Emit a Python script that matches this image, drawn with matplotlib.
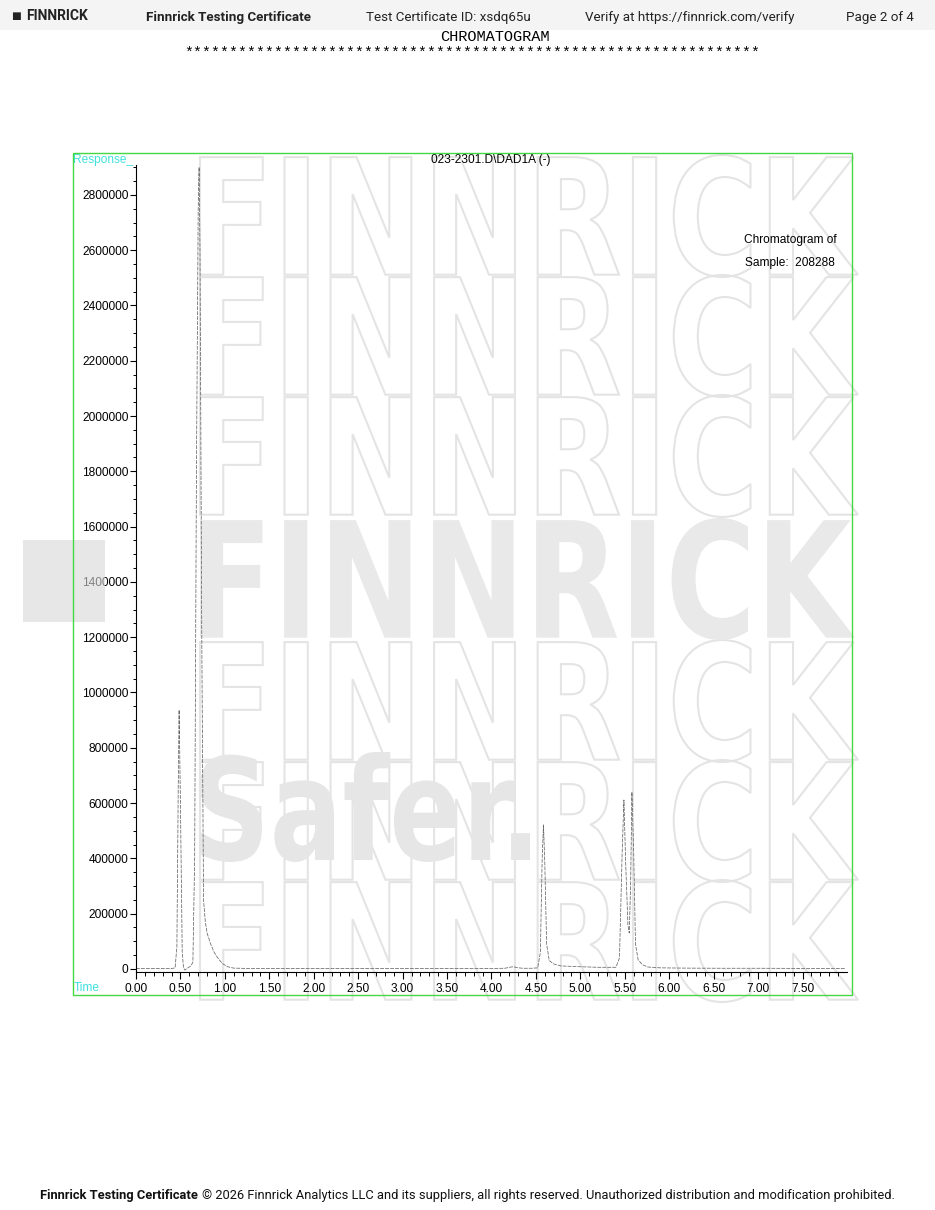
import numpy as np
import matplotlib
matplotlib.use("Agg")
import matplotlib.pyplot as plt
from matplotlib.textpath import TextPath
from matplotlib.patches import PathPatch, Rectangle
from matplotlib.font_manager import FontProperties
from matplotlib.transforms import Affine2D
from matplotlib.ticker import FixedLocator, FuncFormatter

W, H = 935, 1210

# retention time (min) and detector response
rt_min = [0.00, 0.20, 0.40, 0.44, 0.46, 0.475, 0.485, 0.50, 0.52, 0.535, 0.55,
          0.58, 0.62, 0.64, 0.66, 0.68, 0.70, 0.71, 0.72, 0.74, 0.76, 0.78,
          0.80, 0.84, 0.88, 0.92, 0.97, 1.03, 1.10, 1.30, 1.60, 2.00, 2.50,
          3.00, 3.50, 4.00, 4.15, 4.22, 4.25, 4.28, 4.35, 4.45, 4.52, 4.55,
          4.57, 4.585, 4.60, 4.62, 4.65, 4.70, 4.78, 5.00, 5.20, 5.40, 5.44,
          5.47, 5.49, 5.51, 5.535, 5.55, 5.565, 5.58, 5.60, 5.62, 5.65, 5.70,
          5.76, 5.90, 6.20, 6.60, 7.00, 7.50, 7.98]
response = [1500, 1800, 1500, 4000, 80000, 650000, 937000, 600000, 60000, 4000, -4000,
            3000, 12000, 25000, 400000, 1800000, 2750000, 2900000, 2600000, 1200000, 250000, 170000,
            130000, 90000, 60000, 40000, 20000, 8000, 3000, 1500, 1800, 1200, 1500,
            1300, 1600, 1800, 2500, 7000, 8000, 5000, 2500, 2500, 4000, 60000,
            400000, 521000, 380000, 90000, 30000, 18000, 11000, 8000, 6000, 6000, 40000,
            420000, 611000, 380000, 160000, 130000, 300000, 640000, 420000, 90000, 33000, 15000,
            7000, 4000, 3000, 2500, 2500, 2000, 1500]

x_major = np.arange(0, 7.51, 0.5)
x_minor = np.arange(0, 8.0, 0.1)
y_major = np.arange(0, 2800001, 200000)
y_minor = np.arange(0, 2900001, 50000)

fig = plt.figure(figsize=(W / 100, H / 100), dpi=100)


def fx(px):
    return px / W


def fy(py):
    return 1 - py / H


def text_box(s, x0, y0, x1, y1, **kw):
    # stretch a text outline into the pixel box (x0,y0)-(x1,y1), y from top
    tp = TextPath((0, 0), s, size=100, prop=FontProperties(family="DejaVu Sans", weight="bold"))
    ext = tp.get_extents()
    tr = (Affine2D().translate(-ext.x0, -ext.y0)
          .scale((x1 - x0) / ext.width / W, (y1 - y0) / ext.height / H)
          .translate(fx(x0), fy(y1)))
    p = PathPatch(tp, transform=tr + fig.transFigure, **kw)
    fig.add_artist(p)
    return p


# watermark
for top in [155, 275, 395, 640, 760, 880]:
    text_box("FINNRICK", 200, top, 858, top + 122, facecolor="none",
             edgecolor="#e4e4e4", lw=1.5, zorder=-2)
text_box("FINNRICK", 200, 518, 855, 640, facecolor="#e9e9e9", edgecolor="none", zorder=-1)
text_box("Safer.", 200, 752, 530, 862, facecolor="#e6e6e6", edgecolor="none", zorder=-1)

# header / footer
fig.add_artist(Rectangle((0, fy(30)), 1, 30 / H, facecolor="#f4f4f4",
                         edgecolor="none", transform=fig.transFigure, zorder=-3))
hdr = dict(family="Roboto", fontsize=9.6, va="center", color="#222222")
fig.text(fx(11), fy(16), "■", fontsize=7.5, va="center", color="#222222", family="DejaVu Sans")
fig.text(fx(26), fy(16), "FINNRICK", fontweight="bold", family="Roboto", fontsize=10,
         va="center", color="#222222")
fig.text(fx(146), fy(17), "Finnrick Testing Certificate", fontweight="bold", **hdr)
fig.text(fx(366), fy(17), "Test Certificate ID: xsdq65u", **hdr)
fig.text(fx(585), fy(17), "Verify at https://finnrick.com/verify", **hdr)
fig.text(fx(846), fy(17), "Page 2 of 4", **hdr)

fig.text(fx(495), fy(37), "CHROMATOGRAM", family="Liberation Mono", fontsize=11,
         ha="center", va="center")
fig.text(fx(472), fy(53), "*" * 64, family="Liberation Mono", fontsize=10.8,
         ha="center", va="center")

# footer: bold lead-in followed by normal text, centred as one line
ftr = dict(family="Roboto", fontsize=9.3, va="center", color="#111111")
t1 = fig.text(0, fy(1195), "Finnrick Testing Certificate ", fontweight="bold", **ftr)
t2 = fig.text(0, fy(1195), "© 2026 Finnrick Analytics LLC and its suppliers, all rights reserved. "
              "Unauthorized distribution and modification prohibited.", **ftr)
rend = fig.canvas.get_renderer()
w1 = t1.get_window_extent(rend).width
w2 = t2.get_window_extent(rend).width
start = (W - w1 - w2) / 2
t1.set_x(fx(start))
t2.set_x(fx(start + w1))

# chart
ax = fig.add_axes([fx(136), fy(972), fx(847 - 136), (972 - 165) / H])
ax.patch.set_alpha(0)
ax.plot(rt_min, response, color="#666666", lw=0.55, dashes=(5, 1.5))
ax.set_xlim(0, 8.0)
ax.set_ylim(-11000, 2908000)
for s in ["top", "right"]:
    ax.spines[s].set_visible(False)
for s in ["left", "bottom"]:
    ax.spines[s].set_linewidth(0.8)
ax.xaxis.set_major_locator(FixedLocator(x_major))
ax.xaxis.set_minor_locator(FixedLocator(x_minor))
ax.yaxis.set_major_locator(FixedLocator(y_major))
ax.yaxis.set_minor_locator(FixedLocator(y_minor))
ax.xaxis.set_major_formatter(FuncFormatter(lambda v, p: "%.2f" % v))
ax.yaxis.set_major_formatter(FuncFormatter(lambda v, p: "%d" % v))
ax.tick_params(axis="x", which="major", length=5, width=0.8, pad=3, labelsize=8.6)
ax.tick_params(axis="x", which="minor", length=3, width=0.7)
ax.tick_params(axis="y", which="major", length=4, width=0.8, pad=1.5, labelsize=8.6)
ax.tick_params(axis="y", which="minor", length=2.5, width=0.7)
for lab in ax.get_xticklabels() + ax.get_yticklabels():
    lab.set_family("Liberation Sans")

lbl = dict(family="Liberation Sans", fontsize=8.6, va="center")
fig.text(fx(491), fy(160), "023-2301.D\\DAD1A (-)", ha="center", **lbl)
fig.text(fx(73), fy(160), "Response_", color="#40e0e0", **lbl)
fig.text(fx(74), fy(988), "Time", color="#40e0e0", **lbl)
fig.text(fx(790), fy(240), "Chromatogram of", ha="center", **lbl)
fig.text(fx(790), fy(263), "Sample:  208288", ha="center", **lbl)

# grey block on the left and green frame
fig.add_artist(Rectangle((fx(23), fy(622)), fx(105 - 23), (622 - 540) / H,
                         facecolor="#d8d8d8", edgecolor="none", alpha=0.6,
                         transform=fig.transFigure, zorder=5))
fig.add_artist(Rectangle((fx(73), fy(995)), fx(852 - 73), (995 - 153) / H,
                         facecolor="none", edgecolor="#44d944", lw=1.0,
                         transform=fig.transFigure, zorder=6))

fig.savefig("out.png", dpi=100)
